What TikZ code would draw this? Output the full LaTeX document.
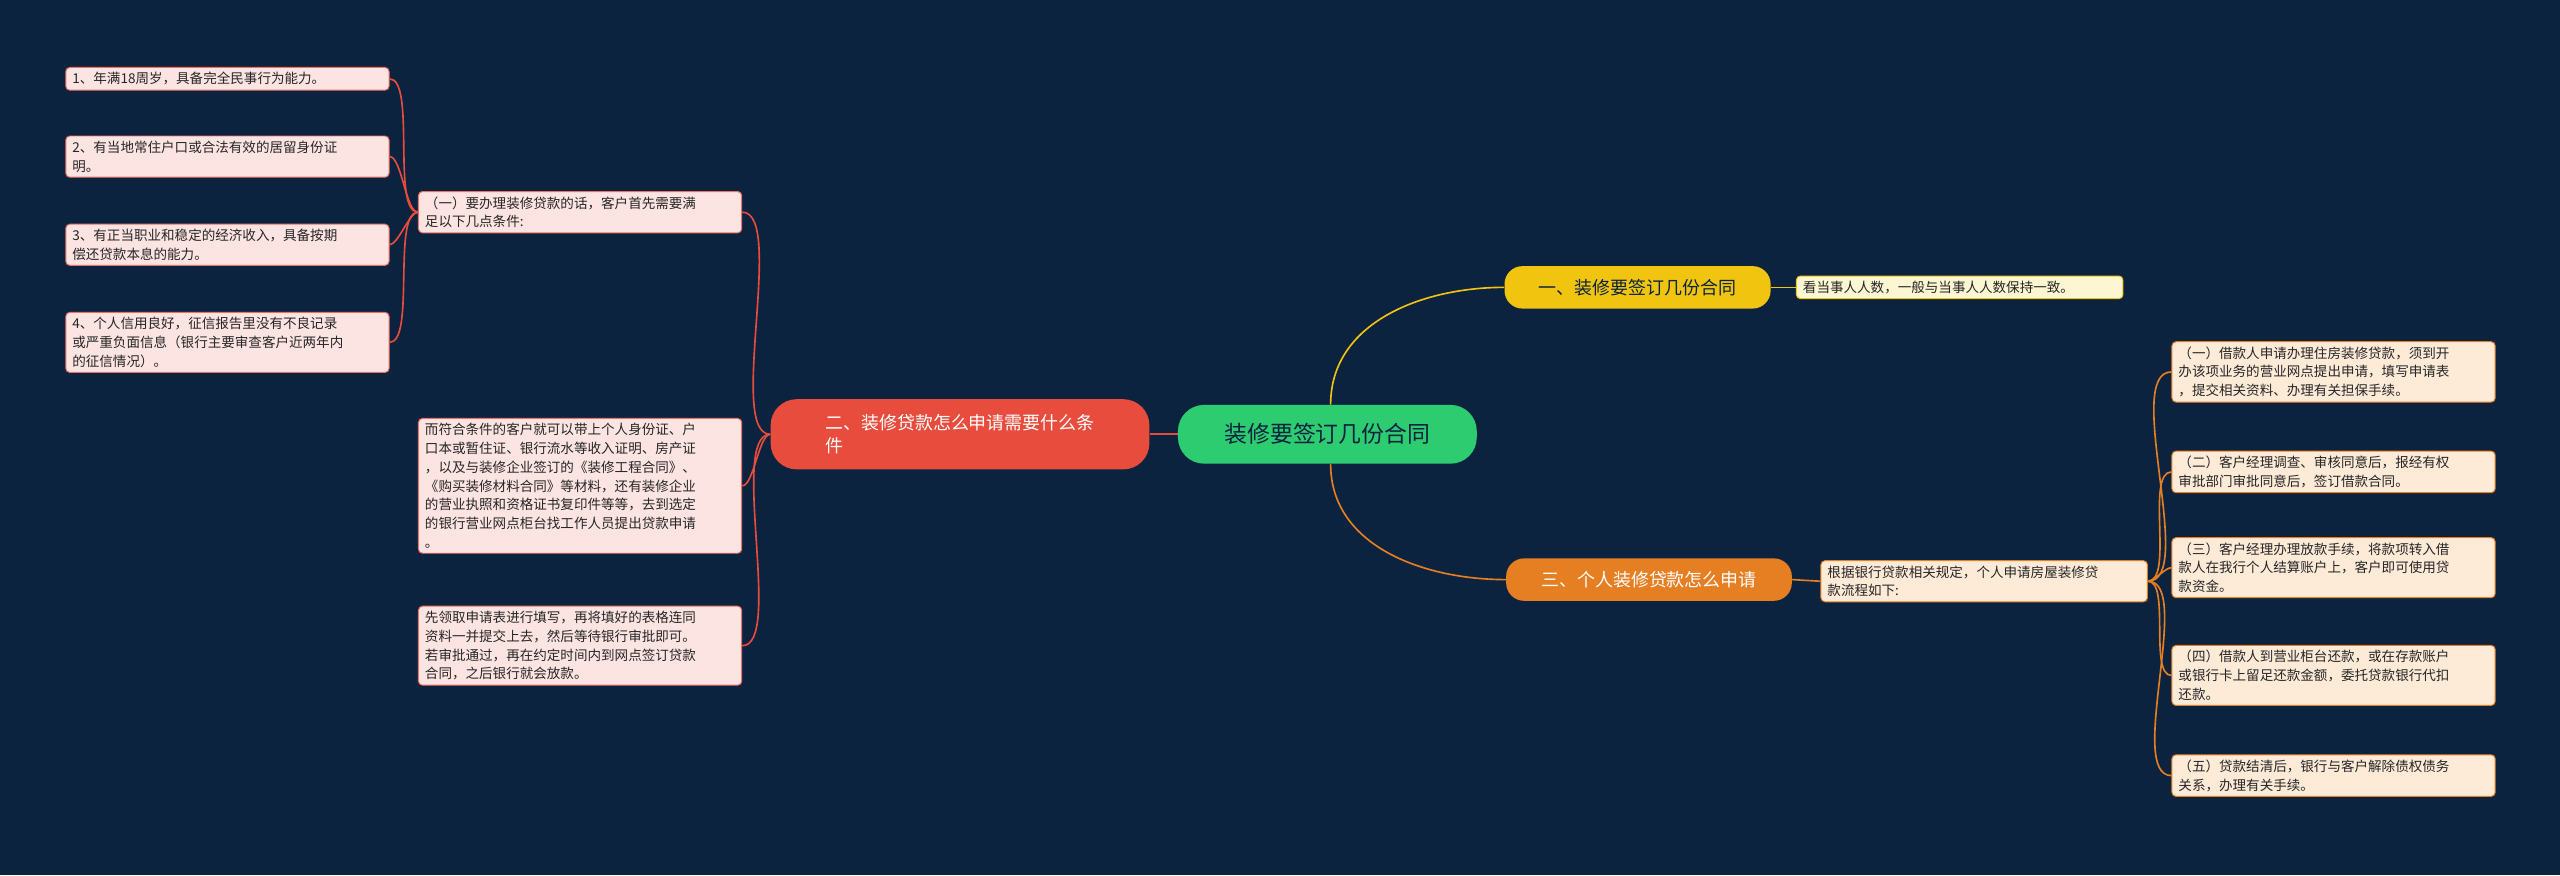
\documentclass[tikz,border=0pt]{standalone}
\usepackage{fontspec}
\newfontfamily\cjk{Noto Sans CJK SC}
\definecolor{bg}{HTML}{0C2340}
\definecolor{cgreen}{HTML}{2ECC71}
\definecolor{cyellow}{HTML}{F1C40F}
\definecolor{corange}{HTML}{E67E22}
\definecolor{cred}{HTML}{E74C3C}
\definecolor{lpink}{HTML}{FCE4E2}
\definecolor{lorange}{HTML}{FDEBD8}
\definecolor{lyellow}{HTML}{FDF6D2}
\tikzset{
 leaf/.style={draw, rounded corners=2.5pt, line width=0.6pt, align=left, anchor=north west, inner xsep=4pt, inner ysep=3pt, font=\cjk\fontsize{8.3}{11.5}\selectfont, text=black!85},
 pinkleaf/.style={leaf, fill=lpink, draw=cred!80},
 orleaf/.style={leaf, fill=lorange, draw=corange},
 yleaf/.style={leaf, fill=lyellow, draw=cyellow},
 branch/.style={rounded corners=11pt, minimum height=26pt, inner xsep=10pt, font=\cjk\fontsize{11}{14}\selectfont},
 edge/.style={line width=1pt},
}
\begin{document}
\begin{tikzpicture}[x=1pt,y=-1pt]
\fill[bg] (0,0) rectangle (1568,536);
\useasboundingbox (0,0) rectangle (1568,536);
\node[branch, fill=cgreen, text=bg, minimum width=183pt, minimum height=36pt, rounded corners=16pt, font=\cjk\fontsize{14}{16}\selectfont] (c) at (813,266) {装修要签订几份合同};
\node[branch, fill=cyellow, text=bg, minimum width=163pt] (b1) at (1003,176) {一、装修要签订几份合同};
\node[branch, fill=corange, text=white, minimum width=175pt] (b3) at (1010,355) {三、个人装修贷款怎么申请};
\node[branch, fill=cred, text=white, minimum width=232pt, minimum height=43pt, rounded corners=16pt, align=left] (b2) at (588,266) {二、装修贷款怎么申请需要什么条\\件};
\node[yleaf, anchor=west, text width=192pt] (y1) at (1100,176) {看当事人人数，一般与当事人人数保持一致。};
\node[orleaf, anchor=west, text width=192pt] (o0) at (1115,356) {根据银行贷款相关规定，个人申请房屋装修贷\\款流程如下:};
\node[orleaf, text width=190pt] (o1) at (1330,209) {（一）借款人申请办理住房装修贷款，须到开\\办该项业务的营业网点提出申请，填写申请表\\，提交相关资料、办理有关担保手续。};
\node[orleaf, text width=190pt] (o2) at (1330,276) {（二）客户经理调查、审核同意后，报经有权\\审批部门审批同意后，签订借款合同。};
\node[orleaf, text width=190pt] (o3) at (1330,329) {（三）客户经理办理放款手续，将款项转入借\\款人在我行个人结算账户上，客户即可使用贷\\款资金。};
\node[orleaf, text width=190pt] (o4) at (1330,395) {（四）借款人到营业柜台还款，或在存款账户\\或银行卡上留足还款金额，委托贷款银行代扣\\还款。};
\node[orleaf, text width=190pt] (o5) at (1330,462) {（五）贷款结清后，银行与客户解除债权债务\\关系，办理有关手续。};
\node[pinkleaf, text width=190pt] (p1) at (256,117) {（一）要办理装修贷款的话，客户首先需要满\\足以下几点条件:};
\node[pinkleaf, text width=190pt] (p2) at (256,256) {而符合条件的客户就可以带上个人身份证、户\\口本或暂住证、银行流水等收入证明、房产证\\，以及与装修企业签订的《装修工程合同》、\\《购买装修材料合同》等材料，还有装修企业\\的营业执照和资格证书复印件等等，去到选定\\的银行营业网点柜台找工作人员提出贷款申请\\。};
\node[pinkleaf, text width=190pt] (p3) at (256,371) {先领取申请表进行填写，再将填好的表格连同\\资料一并提交上去，然后等待银行审批即可。\\若审批通过，再在约定时间内到网点签订贷款\\合同，之后银行就会放款。};
\node[pinkleaf, text width=190pt] (g1) at (40,41) {1、年满18周岁，具备完全民事行为能力。};
\node[pinkleaf, text width=190pt] (g2) at (40,83) {2、有当地常住户口或合法有效的居留身份证\\明。};
\node[pinkleaf, text width=190pt] (g3) at (40,137) {3、有正当职业和稳定的经济收入，具备按期\\偿还贷款本息的能力。};
\node[pinkleaf, text width=190pt] (g4) at (40,191) {4、个人信用良好，征信报告里没有不良记录\\或严重负面信息（银行主要审查客户近两年内\\的征信情况）。};
% connectors
\draw[edge, cyellow] ([xshift=2pt]c.north) to[out=90,in=180] (b1.west);
\draw[edge, cyellow] (b1.east) -- (y1.west);
\draw[edge, corange] ([xshift=2pt]c.south) to[out=-90,in=180] (b3.west);
\draw[edge, corange] (b3.east) -- (o0.west);
\foreach \n in {o1,o2,o3,o4,o5}
  \draw[edge, corange] (o0.east) to[out=0,in=180,looseness=0.6] (\n.west);
\draw[edge, cred] (c.west) -- (b2.east);
\foreach \n in {p1,p2,p3}
  \draw[edge, cred] (b2.west) to[out=180,in=0,looseness=0.5] (\n.east);
\foreach \n in {g1,g2,g3,g4}
  \draw[edge, cred] (p1.west) to[out=180,in=0,looseness=0.5] (\n.east);
\end{tikzpicture}
\end{document}
